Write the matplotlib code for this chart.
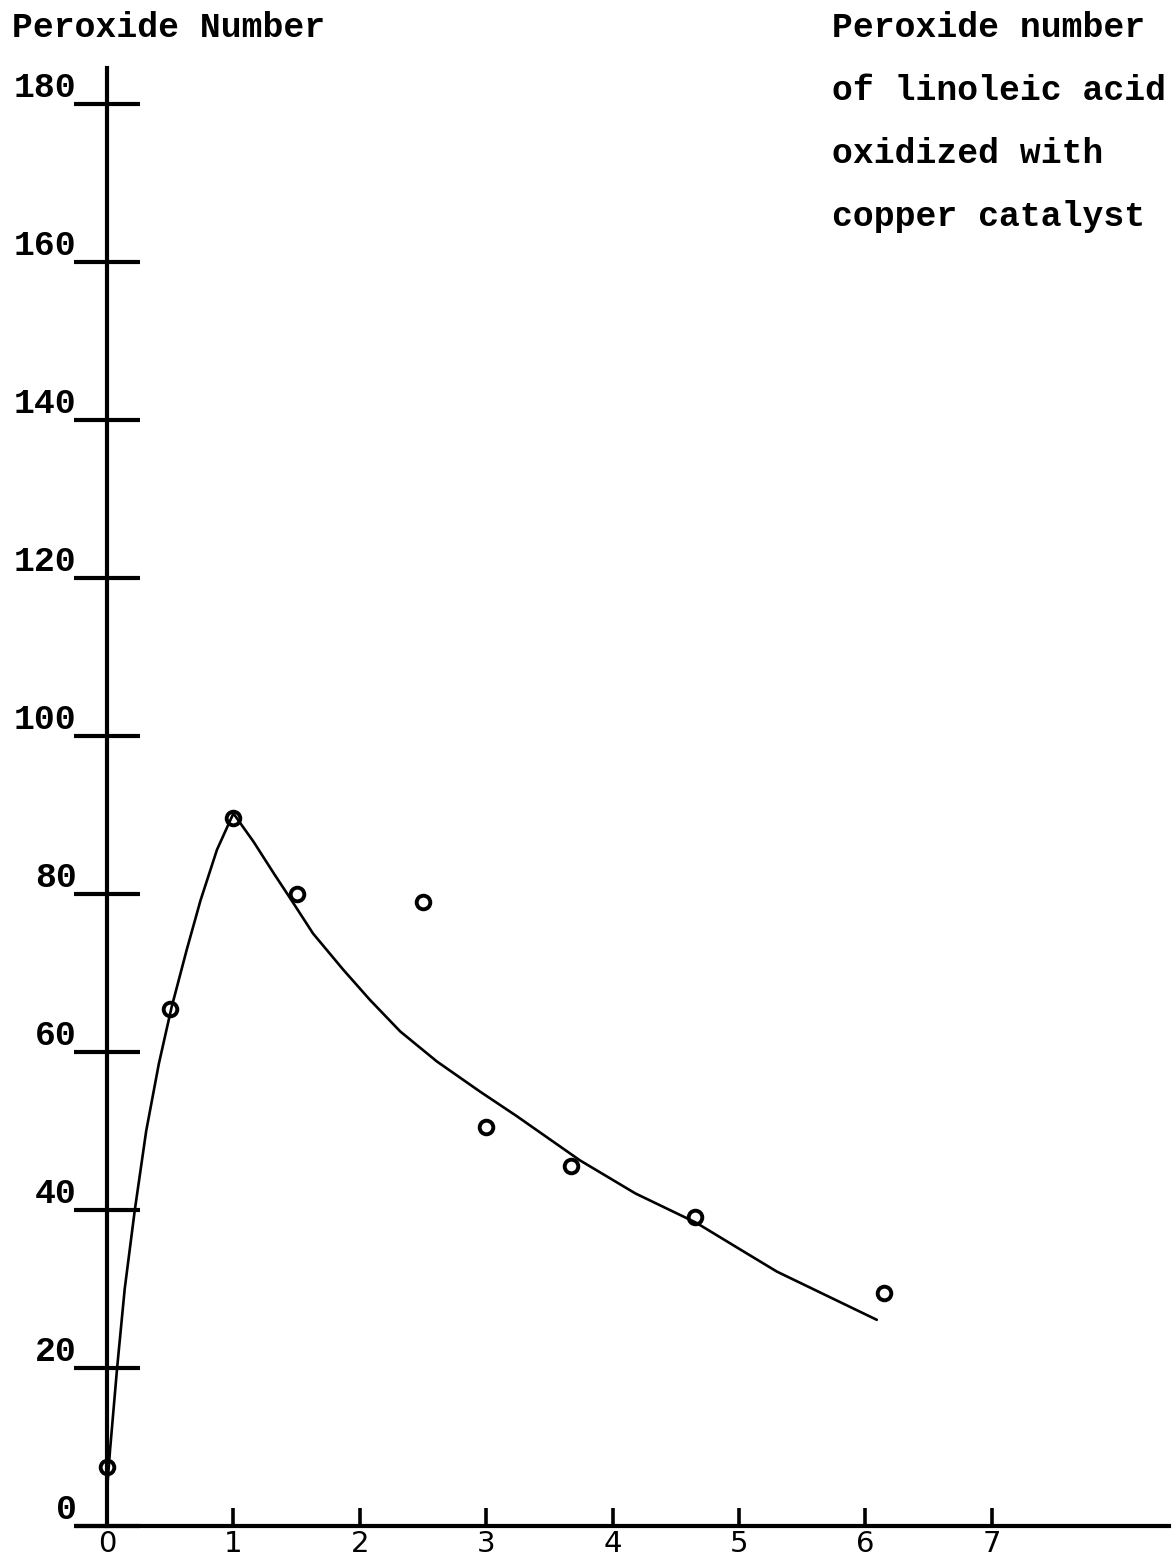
import matplotlib
matplotlib.use("Agg")
import matplotlib.pyplot as plt

# ---- data ----
obs_time = [0.0, 0.5, 1.0, 1.5, 2.5, 3.0, 3.67, 4.65, 6.15]
obs_peroxide = [7.5, 65.5, 89.6, 80.0, 79.0, 50.5, 45.6, 39.1, 29.5]

curve_time = [0.0, 0.024, 0.08, 0.14, 0.22, 0.31, 0.41, 0.51, 0.63, 0.74,
              0.87, 1.0, 1.16, 1.32, 1.46, 1.63, 1.87, 2.08, 2.32, 2.61, 2.95,
              3.24, 3.74, 4.18, 4.66, 5.0, 5.3, 6.09]
curve_peroxide = [4.5, 9.6, 20.0, 30.0, 40.0, 50.0, 58.5, 65.6, 72.9, 79.2,
                  85.6, 90.2, 86.6, 82.6, 79.2, 75.0, 70.4, 66.6, 62.6, 58.8, 55.0,
                  51.9, 46.3, 42.1, 38.4, 35.1, 32.2, 26.1]

y_ticks = [0, 20, 40, 60, 80, 100, 120, 140, 160, 180]
y_tick_labels = [str(v) for v in y_ticks]
x_ticks = [0, 1, 2, 3, 4, 5, 6, 7]
x_tick_labels = [str(v) for v in x_ticks]

y_title = "Peroxide Number"
note_lines = ["Peroxide number", "of linoleic acid", "oxidized with", "copper catalyst"]

# ---- figure ----
W, H = 1174, 1560
fig = plt.figure(figsize=(W / 100, H / 100), dpi=100)
ax = fig.add_axes([0, 0, 1, 1])

# pixel geometry of the reference: x0=107 px, 126.4 px/unit ; y0=1526 px, 7.9 px/unit
x0_px, xs = 107.0, 126.4
y0_px, ys = 1526.0, 7.9
ax.set_xlim(-x0_px / xs, (W - x0_px) / xs)
ax.set_ylim((y0_px - H) / ys, y0_px / ys)

mono = ["Liberation Mono", "DejaVu Sans Mono"]

ax.plot(curve_time, curve_peroxide, color="black", lw=1.9, solid_capstyle="round",
        solid_joinstyle="round", zorder=3)
ax.plot(obs_time, obs_peroxide, linestyle="none", marker="o", markersize=9.8,
        markerfacecolor="none", markeredgecolor="black", markeredgewidth=2.8,
        zorder=4)

for s in ("top", "right"):
    ax.spines[s].set_visible(False)
ax.spines["left"].set_position(("data", 0))
ax.spines["bottom"].set_position(("data", 0))
ax.spines["left"].set_bounds(0, (y0_px - 68) / ys)
ax.spines["bottom"].set_bounds((77 - x0_px) / xs, (1169 - x0_px) / xs)
ax.spines["left"].set_linewidth(3.0)
ax.spines["bottom"].set_linewidth(3.0)

ax.set_yticks(y_ticks, y_tick_labels)
ax.set_xticks(x_ticks, x_tick_labels)
ax.tick_params(axis="y", direction="inout", length=48, width=3.0, pad=-2,
               labelsize=25)
ax.tick_params(axis="x", direction="in", length=13, width=2.6, pad=3,
               labelsize=21)
for t in ax.get_yticklabels():
    t.set_fontfamily(mono)
    t.set_fontweight("bold")
    t.set_va("bottom")
for t in ax.get_xticklabels():
    t.set_fontfamily(["DejaVu Sans"])

# titles as text
fig.text(12 / W, 1 - 37 / H, y_title, fontsize=25, fontweight="bold",
         family=mono, ha="left", va="baseline")
for i, line in enumerate(note_lines):
    fig.text(832 / W, 1 - (37 + 63 * i) / H, line, fontsize=25, fontweight="bold",
             family=mono, ha="left", va="baseline")

fig.savefig("out.png", dpi=100, facecolor="white")
